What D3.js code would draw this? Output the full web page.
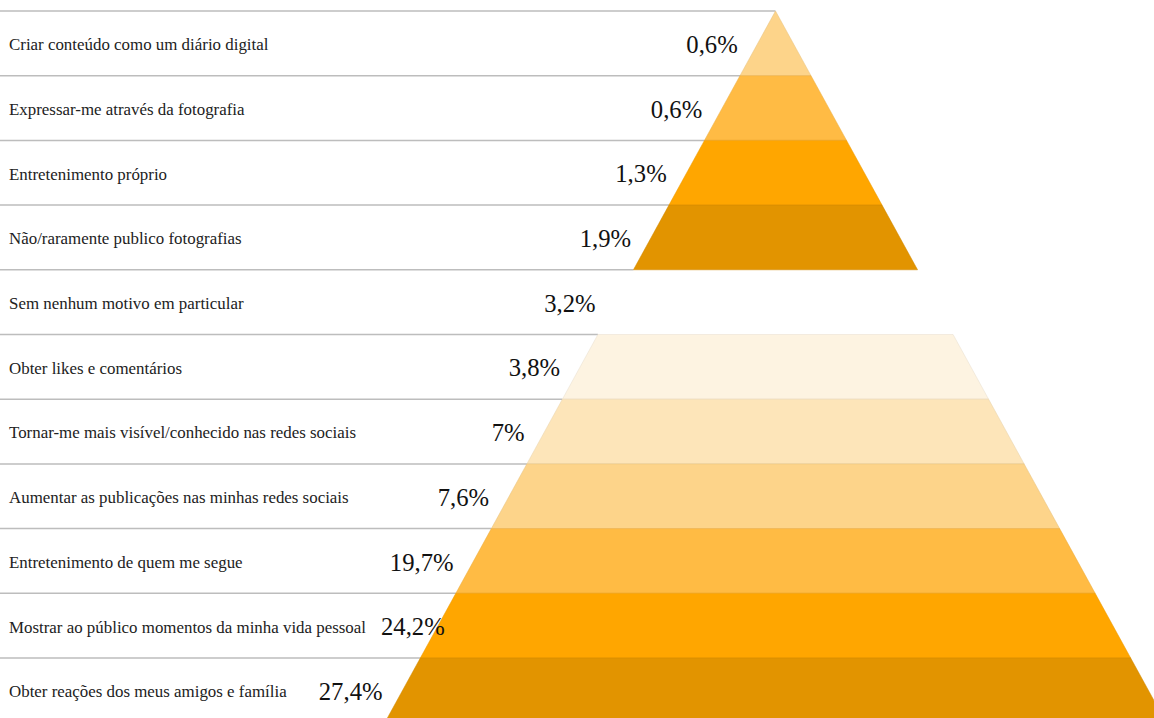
<!DOCTYPE html>
<html>
<head>
<meta charset="utf-8">
<script src="https://cdn.jsdelivr.net/npm/d3@7"></script>
<style>
  html, body { margin: 0; padding: 0; background: #fff; }
  svg { display: block; }
</style>
</head>
<body>
<svg id="chart" width="1154" height="718"></svg>
<script>
// Reasons for posting photos, one pyramid layer per reason (top = smallest share)
const categories = [
  "Criar conteúdo como um diário digital",
  "Expressar-me através da fotografia",
  "Entretenimento próprio",
  "Não/raramente publico fotografias",
  "Sem nenhum motivo em particular",
  "Obter likes e comentários",
  "Tornar-me mais visível/conhecido nas redes sociais",
  "Aumentar as publicações nas minhas redes sociais",
  "Entretenimento de quem me segue",
  "Mostrar ao público momentos da minha vida pessoal",
  "Obter reações dos meus amigos e família"
];
const values = [0.6, 0.6, 1.3, 1.9, 3.2, 3.8, 7, 7.6, 19.7, 24.2, 27.4];
// Layer fills; the "no particular reason" layer is left unfilled
const sliceColors = [
  "#FDD48A", "#FFBB44", "#FFA600", "#E29400",
  null,
  "#FDF3E1", "#FDE5B9", "#FDD48A", "#FFBB44", "#FFA600", "#E29400"
];

const svg = d3.select("#chart");

const rowTop = 11, rowH = 64.7;
const y = d3.scaleBand()
  .domain(categories)
  .range([rowTop, rowTop + rowH * categories.length])
  .paddingInner(0).paddingOuter(0);

// Pyramid: apex at the top of the first row, widening linearly downwards
const cx = 775.5;
const halfW = d3.scaleLinear()
  .domain([y.range()[0], y.range()[1]])
  .range([0, 390.7]);

const ptLocale = d3.formatLocale({ decimal: ",", thousands: ".", grouping: [3], currency: ["", "€"] });
const fmt = v => ptLocale.format(".1~f")(v) + "%";

// Row separator lines, running from the left edge to the pyramid side
const boundaries = categories.map(c => y(c));
svg.append("g").selectAll("line")
  .data(boundaries)
  .join("line")
  .attr("x1", 0)
  .attr("x2", b => cx - halfW(b))
  .attr("y1", b => b)
  .attr("y2", b => b)
  .attr("stroke", "#BDBDBD")
  .attr("stroke-width", 1.5);

// Pyramid layers
const layers = categories.map((c, i) => ({ c, i, color: sliceColors[i] }));
svg.append("g").selectAll("path")
  .data(layers.filter(d => d.color))
  .join("path")
  .attr("d", d => {
    const t = y(d.c), b = t + y.bandwidth();
    return `M${cx - halfW(t)},${t}L${cx + halfW(t)},${t}L${cx + halfW(b)},${b}L${cx - halfW(b)},${b}Z`;
  })
  .attr("fill", d => d.color)
  .attr("stroke", d => d3.color(d.color).darker(0.25))
  .attr("stroke-opacity", 0.5)
  .attr("stroke-width", 1);

// Category labels
const catLabels = svg.append("g").selectAll("text")
  .data(layers)
  .join("text")
  .attr("x", 9)
  .attr("y", d => y(d.c) + y.bandwidth() / 2 + 1)
  .attr("dy", "0.35em")
  .attr("font-family", "'Liberation Serif', 'DejaVu Serif', serif")
  .attr("font-size", 16.9)
  .attr("fill", "#222")
  .text(d => d.c);

const catRight = [];
catLabels.each(function (d) { catRight[d.i] = 9 + this.getComputedTextLength(); });

// Value labels, placed just left of the pyramid side, pushed right when they would hit the category text
svg.append("g").selectAll("text")
  .data(layers)
  .join("text")
  .attr("y", d => y(d.c) + y.bandwidth() / 2 + 1)
  .attr("dy", "0.35em")
  .attr("font-family", "'Liberation Serif', 'DejaVu Serif', serif")
  .attr("font-size", 24.7)
  .attr("fill", "#111")
  .attr("text-anchor", "end")
  .text(d => fmt(values[d.i]))
  .each(function (d) {
    const mid = y(d.c) + y.bandwidth() / 2;
    const w = this.getComputedTextLength();
    let xEnd = cx - halfW(mid) - 20;
    if (xEnd - w < catRight[d.i] + 15) xEnd = catRight[d.i] + 15 + w;
    d3.select(this).attr("x", xEnd);
  });
</script>
</body>
</html>
